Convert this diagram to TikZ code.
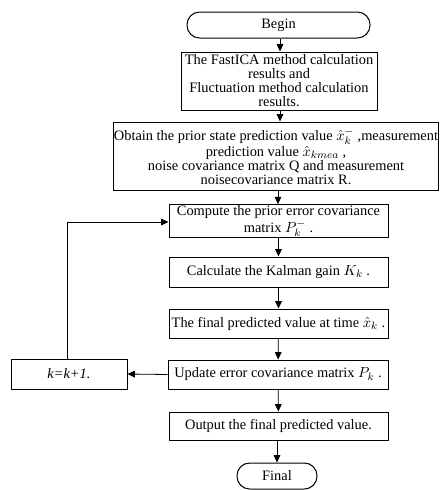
\documentclass[tikz,border=0pt]{standalone}
\usepackage{fontspec}
\setmainfont{Liberation Serif}
\usetikzlibrary{arrows.meta}
\begin{document}
\begin{tikzpicture}[x=0.75pt,y=-0.75pt,
  box/.style={draw,line width=0.75pt,inner sep=0.5pt,align=center,font=\fontsize{10.8}{10.5}\selectfont},
  term/.style={box,rounded corners=9.5pt},
  arr/.style={-{Triangle[length=5.5pt,width=5pt]},line width=0.6pt}]
\useasboundingbox (0,0) rectangle (440,490);
\node[term,minimum width=183*0.75pt,minimum height=26*0.75pt] (begin) at (278.5,25) {Begin};
\node[box,minimum width=196*0.75pt,minimum height=58*0.75pt] (b1) at (279,81) {The FastICA method calculation\\results and\\Fluctuation method calculation\\results.};
\node[box,minimum width=320*0.75pt,minimum height=68*0.75pt] (b2) at (276,156) {Obtain the prior state prediction value $\hat{x}_k^-$ ,measurement\\prediction value $\hat{x}_{kmea}$ ,\\noise covariance matrix Q and measurement\\noisecovariance matrix R.};
\node[box,minimum width=219*0.75pt,minimum height=32*0.75pt] (b3) at (278.5,221) {Compute the prior error covariance\\matrix $P_k^-$ .};
\node[box,minimum width=219*0.75pt,minimum height=30*0.75pt] (b4) at (278.5,272) {Calculate the Kalman gain $K_k$ .};
\node[box,minimum width=219*0.75pt,minimum height=29*0.75pt] (b5) at (278.5,323.5) {The final predicted value at time $\hat{x}_k$ .};
\node[box,minimum width=220*0.75pt,minimum height=29*0.75pt] (b6) at (278,374.5) {Update error covariance matrix $P_k$ .};
\node[box,minimum width=219*0.75pt,minimum height=28*0.75pt] (b7) at (278.5,426) {Output the final predicted value.};
\node[term,minimum width=80*0.75pt,minimum height=26*0.75pt] (fin) at (277,476) {Final};
\node[box,minimum width=116*0.75pt,minimum height=30*0.75pt] (k) at (69,374) {\textit{k=k+1.}};
\coordinate (c1) at (67,222);
\draw[arr] (begin.south -| 280,0) -- (b1.north -| 280,0);
\draw[arr] (b1.south -| 280,0) -- (b2.north -| 280,0);
\draw[arr] (b2.south -| 278,0) -- (b3.north -| 278,0);
\draw[arr] (b3) -- (b4);
\draw[arr] (b4) -- (b5);
\draw[arr] (b5) -- (b6);
\draw[arr] (b6) -- (b7);
\draw[arr] (b7.south -| fin) -- (fin);
\draw[arr] (b6.west) -- (k.east);
\draw[arr] (k.north -| c1) -- (c1) -- (b3.west |- c1);
\end{tikzpicture}
\end{document}
